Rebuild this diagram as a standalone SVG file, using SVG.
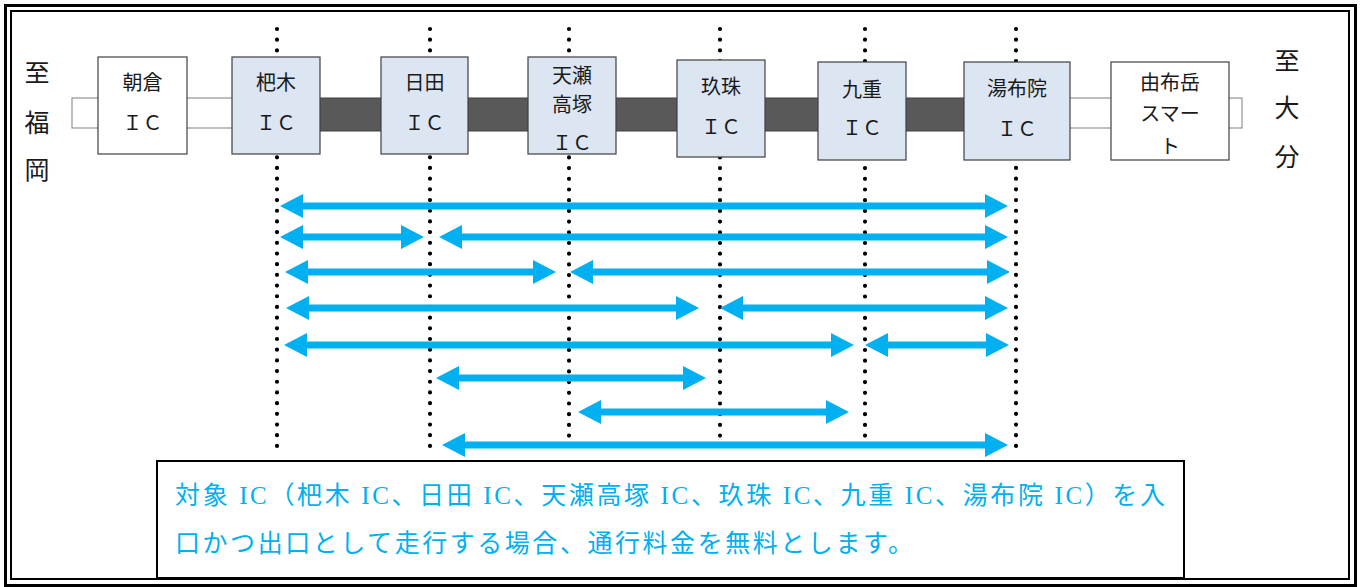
<svg xmlns="http://www.w3.org/2000/svg" width="1362" height="587" viewBox="0 0 1362 587">
<style>
.box{stroke:#404040;stroke-width:1.2}
.ic{fill:#dce6f2}
.plain{fill:#ffffff}
.lbl{font-family:"Noto Sans CJK JP",sans-serif;font-size:20px;fill:#1a1a1a;text-anchor:middle}
.side{font-family:"Noto Sans CJK JP",sans-serif;font-size:25px;fill:#1a1a1a;text-anchor:middle}
.dots{stroke:#000;stroke-width:4.2;stroke-linecap:round;fill:none}
.arr{stroke:#00b0f0;stroke-width:7;fill:none;marker-start:url(#head);marker-end:url(#head)}
.note{font-family:"Liberation Serif","Noto Sans CJK JP",serif;font-size:25px;fill:#00b0f0}
</style>
<defs>
<marker id="head" viewBox="0 0 23 24" markerWidth="23" markerHeight="24" markerUnits="userSpaceOnUse" refX="3" refY="12" orient="auto-start-reverse">
<path d="M0,0 L23,12 L0,24 z" fill="#00b0f0"/>
</marker>
</defs>
<rect x="0" y="0" width="1362" height="587" fill="#ffffff"/>
<rect x="5.5" y="5.5" width="1350" height="580" fill="none" stroke="#000" stroke-width="3"/>
<rect x="11" y="11" width="1338" height="568" fill="none" stroke="#000" stroke-width="2"/>

<g id="road">
<rect x="72" y="98" width="180" height="30" fill="#fff" stroke="#7f7f7f" stroke-width="1"/>
<rect x="1050" y="98" width="192" height="30" fill="#fff" stroke="#7f7f7f" stroke-width="1"/>
<rect x="300" y="98" width="690" height="33" fill="#595959" stroke="#404040" stroke-width="1"/>
</g>

<g id="guides">
<line class="dots" x1="277" y1="29" x2="277" y2="446" stroke-dasharray="0 10.69"/>
<line class="dots" x1="430" y1="29" x2="430" y2="446" stroke-dasharray="0 10.69"/>
<line class="dots" x1="569" y1="29" x2="569" y2="435.6" stroke-dasharray="0 10.7"/>
<line class="dots" x1="720" y1="29" x2="720" y2="435.6" stroke-dasharray="0 10.7"/>
<line class="dots" x1="865" y1="29" x2="865" y2="435.6" stroke-dasharray="0 10.7"/>
<line class="dots" x1="1016" y1="29" x2="1016" y2="446" stroke-dasharray="0 10.69"/>
</g>

<g id="node-asakura">
<rect class="box plain" x="98" y="57" width="89" height="97"/>
<text class="lbl" x="142.5" y="90">朝倉</text>
<text class="lbl" x="142.5" y="130">ＩＣ</text>
</g>
<g id="node-haki">
<rect class="box ic" x="232" y="57" width="88" height="97"/>
<text class="lbl" x="276" y="90">杷木</text>
<text class="lbl" x="276" y="130">ＩＣ</text>
</g>
<g id="node-hita">
<rect class="box ic" x="381" y="57" width="87" height="97"/>
<text class="lbl" x="424.5" y="90">日田</text>
<text class="lbl" x="424.5" y="130">ＩＣ</text>
</g>
<g id="node-amagase">
<rect class="box ic" x="528" y="57" width="88" height="97"/>
<text class="lbl" x="572" y="83">天瀬</text>
<text class="lbl" x="572" y="112">高塚</text>
<text class="lbl" x="572" y="150">ＩＣ</text>
</g>
<g id="node-kusu">
<rect class="box ic" x="677" y="60" width="88" height="97"/>
<text class="lbl" x="721" y="94">玖珠</text>
<text class="lbl" x="721" y="134">ＩＣ</text>
</g>
<g id="node-kokonoe">
<rect class="box ic" x="818" y="62" width="88" height="98"/>
<text class="lbl" x="862" y="97">九重</text>
<text class="lbl" x="862" y="135">ＩＣ</text>
</g>
<g id="node-yufuin">
<rect class="box ic" x="964" y="62" width="106" height="98"/>
<text class="lbl" x="1017" y="96">湯布院</text>
<text class="lbl" x="1017" y="136">ＩＣ</text>
</g>
<g id="node-yufudake">
<rect class="box plain" x="1111" y="62" width="118" height="98"/>
<text class="lbl" x="1170" y="90">由布岳</text>
<text class="lbl" x="1170" y="121">スマー</text>
<text class="lbl" x="1170" y="154">ト</text>
</g>

<g id="label-fukuoka">
<text class="side" x="37" y="82">至</text>
<text class="side" x="37" y="132">福</text>
<text class="side" x="37" y="179">岡</text>
</g>
<g id="label-oita">
<text class="side" x="1287" y="70">至</text>
<text class="side" x="1287" y="117">大</text>
<text class="side" x="1287" y="166">分</text>
</g>

<g id="connectors">
<line class="arr" x1="300" y1="206" x2="988" y2="206"/>
<line class="arr" x1="300" y1="237" x2="404" y2="237"/>
<line class="arr" x1="459" y1="237" x2="988" y2="237"/>
<line class="arr" x1="305" y1="272" x2="536" y2="272"/>
<line class="arr" x1="590" y1="272" x2="990" y2="272"/>
<line class="arr" x1="306" y1="308" x2="679" y2="308"/>
<line class="arr" x1="740" y1="308" x2="988" y2="308"/>
<line class="arr" x1="304" y1="345" x2="834" y2="345"/>
<line class="arr" x1="885" y1="345" x2="989" y2="345"/>
<line class="arr" x1="456" y1="378" x2="686" y2="378"/>
<line class="arr" x1="598" y1="412" x2="829" y2="412"/>
<line class="arr" x1="462" y1="445" x2="988" y2="445"/>
</g>

<g id="node-note">
<rect x="157" y="461" width="1027" height="117" fill="#fff" stroke="#000" stroke-width="2"/>
<text class="note" x="175" y="504" textLength="990" lengthAdjust="spacing">対象 IC（杷木 IC、日田 IC、天瀬高塚 IC、玖珠 IC、九重 IC、湯布院 IC）を入</text>
<text class="note" x="175" y="552" textLength="738" lengthAdjust="spacing">口かつ出口として走行する場合、通行料金を無料とします。</text>
</g>
</svg>
